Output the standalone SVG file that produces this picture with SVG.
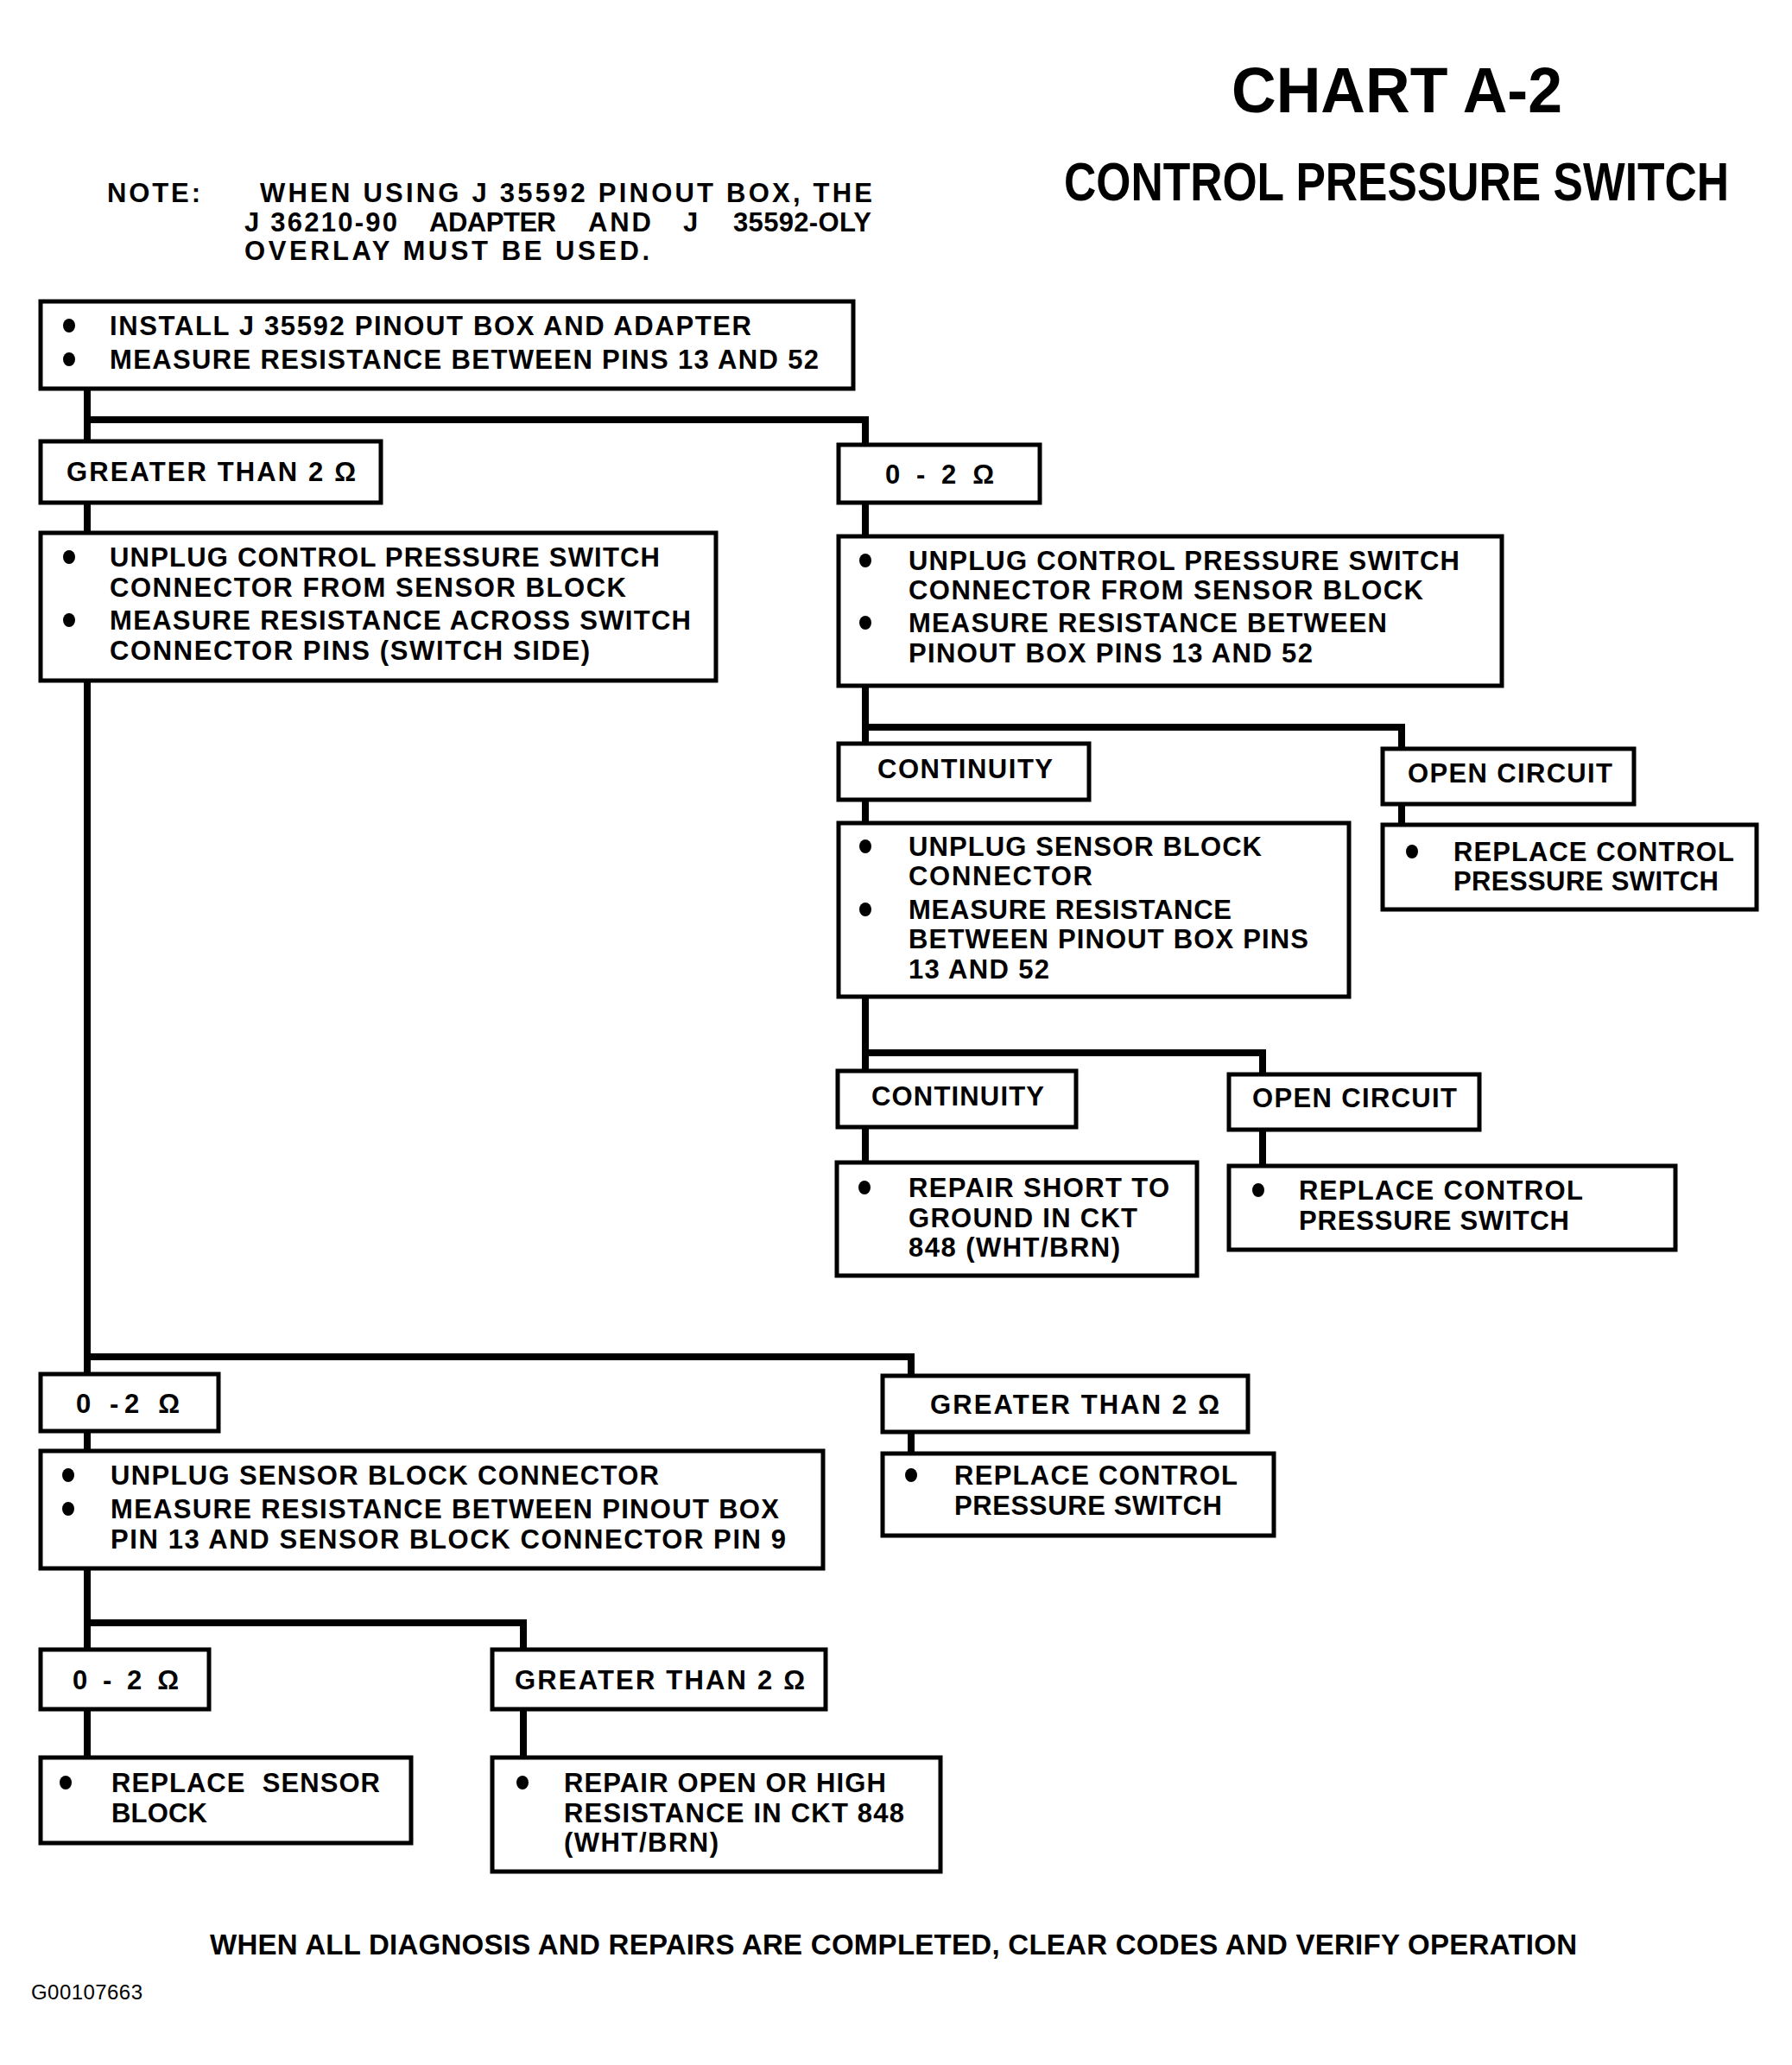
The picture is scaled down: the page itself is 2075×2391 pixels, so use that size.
<svg xmlns="http://www.w3.org/2000/svg" xmlns:xlink="http://www.w3.org/1999/xlink" width="2075" height="2391" viewBox="0 0 2075 2391">
<style>
.box{fill:#fff;stroke:#000;stroke-width:5}
.t{font-family:"Liberation Sans",Arial,Helvetica,sans-serif;font-weight:bold;font-size:31px;fill:#000}
.ft{font-family:"Liberation Sans",Arial,Helvetica,sans-serif;font-weight:bold;font-size:33px;fill:#000}
.h1{font-family:"Liberation Sans",Arial,Helvetica,sans-serif;font-weight:bold;font-size:74px;fill:#000}
.h2{font-family:"Liberation Sans",Arial,Helvetica,sans-serif;font-weight:bold;font-size:52px;fill:#000}
.code{font-family:"Liberation Sans",Arial,Helvetica,sans-serif;font-size:24px;fill:#000}
.conn{fill:none;stroke:#000;stroke-width:8;stroke-linejoin:miter;stroke-linecap:butt}
</style>
<defs>
<ellipse id="bul" cx="0" cy="0" rx="7" ry="8" fill="#000"/>
</defs>
<rect width="2075" height="2391" fill="#fff"/>

<g id="n-title">
<text class="h1" x="1426" y="130" textLength="383" lengthAdjust="spacingAndGlyphs">CHART A-2</text>
<text class="h2" transform="translate(1232,232) scale(1,1.22)" x="0" y="0" textLength="770" lengthAdjust="spacingAndGlyphs">CONTROL PRESSURE SWITCH</text>
</g>

<g id="n-note">
<text class="t" x="124" y="234" textLength="108">NOTE:</text>
<text class="t" x="301" y="234" textLength="709">WHEN USING J 35592 PINOUT BOX, THE</text>
<text class="t" x="283" y="268" textLength="177">J 36210-90</text>
<text class="t" x="497" y="268" textLength="147">ADAPTER</text>
<text class="t" x="681" y="268" textLength="73">AND</text>
<text class="t" x="791" y="268">J</text>
<text class="t" x="849" y="268" textLength="160">35592-OLY</text>
<text class="t" x="283" y="301" textLength="469">OVERLAY MUST BE USED.</text>
</g>

<g id="connectors">
<path class="conn" d="M101,450 V510 M101,486 H1002 V514"/>
<path class="conn" d="M101,582 V617"/>
<path class="conn" d="M1002,583 V620"/>
<path class="conn" d="M1002,794 V861 M1002,842 H1623 V866"/>
<path class="conn" d="M1623,932 V956"/>
<path class="conn" d="M1002,926 V953"/>
<path class="conn" d="M1002,1154 V1240 M1002,1219 H1462 V1243"/>
<path class="conn" d="M1002,1305 V1346"/>
<path class="conn" d="M1462,1308 V1350"/>
<path class="conn" d="M101,788 V1591 M101,1571 H1055 V1593"/>
<path class="conn" d="M101,1658 V1680"/>
<path class="conn" d="M1055,1658 V1683"/>
<path class="conn" d="M101,1816 V1910 M101,1879 H606 V1910"/>
<path class="conn" d="M101,1980 V2035"/>
<path class="conn" d="M606,1980 V2035"/>
</g>

<g id="n-start">
<rect class="box" x="47" y="349" width="941" height="101"/>
<use xlink:href="#bul" x="80" y="377"/>
<use xlink:href="#bul" x="80" y="416"/>
<text class="t" x="127" y="388" textLength="743">INSTALL J 35592 PINOUT BOX AND ADAPTER</text>
<text class="t" x="127" y="427" textLength="821">MEASURE RESISTANCE BETWEEN PINS 13 AND 52</text>
</g>

<g id="n-gt-a">
<rect class="box" x="47" y="511" width="394" height="71"/>
<text class="t" x="77" y="557" textLength="335">GREATER THAN 2 Ω</text>
</g>

<g id="n-cps-left">
<rect class="box" x="47" y="617" width="782" height="171"/>
<use xlink:href="#bul" x="80" y="645"/>
<use xlink:href="#bul" x="80" y="718"/>
<text class="t" x="127" y="656" textLength="637">UNPLUG CONTROL PRESSURE SWITCH</text>
<text class="t" x="127" y="691" textLength="598">CONNECTOR FROM SENSOR BLOCK</text>
<text class="t" x="127" y="729" textLength="673">MEASURE RESISTANCE ACROSS SWITCH</text>
<text class="t" x="127" y="764" textLength="556">CONNECTOR PINS (SWITCH SIDE)</text>
</g>

<g id="n-02-r">
<rect class="box" x="971" y="515" width="233" height="67"/>
<text class="t" x="1025" y="560" textLength="126">0 - 2 Ω</text>
</g>

<g id="n-cps-right">
<rect class="box" x="971" y="621" width="768" height="173"/>
<use xlink:href="#bul" x="1002" y="649"/>
<use xlink:href="#bul" x="1002" y="721"/>
<text class="t" x="1052" y="660" textLength="638">UNPLUG CONTROL PRESSURE SWITCH</text>
<text class="t" x="1052" y="694" textLength="596">CONNECTOR FROM SENSOR BLOCK</text>
<text class="t" x="1052" y="732" textLength="554">MEASURE RESISTANCE BETWEEN</text>
<text class="t" x="1052" y="767" textLength="468">PINOUT BOX PINS 13 AND 52</text>
</g>

<g id="n-cont-1">
<rect class="box" x="971" y="861" width="290" height="65"/>
<text class="t" x="1016" y="901" textLength="203">CONTINUITY</text>
</g>

<g id="n-open-1">
<rect class="box" x="1601" y="867" width="291" height="64"/>
<text class="t" x="1630" y="906" textLength="237">OPEN CIRCUIT</text>
</g>

<g id="n-replace-1">
<rect class="box" x="1601" y="955" width="433" height="98"/>
<use xlink:href="#bul" x="1635" y="986"/>
<text class="t" x="1683" y="997" textLength="325">REPLACE CONTROL</text>
<text class="t" x="1683" y="1031" textLength="307">PRESSURE SWITCH</text>
</g>

<g id="n-unplug-sb-1">
<rect class="box" x="971" y="953" width="591" height="201"/>
<use xlink:href="#bul" x="1002" y="980"/>
<use xlink:href="#bul" x="1002" y="1053"/>
<text class="t" x="1052" y="991" textLength="409">UNPLUG SENSOR BLOCK</text>
<text class="t" x="1052" y="1025" textLength="213">CONNECTOR</text>
<text class="t" x="1052" y="1064" textLength="374">MEASURE RESISTANCE</text>
<text class="t" x="1052" y="1098" textLength="463">BETWEEN PINOUT BOX PINS</text>
<text class="t" x="1052" y="1133" textLength="163">13 AND 52</text>
</g>

<g id="n-cont-2">
<rect class="box" x="970" y="1240" width="276" height="65"/>
<text class="t" x="1009" y="1280" textLength="200">CONTINUITY</text>
</g>

<g id="n-open-2">
<rect class="box" x="1423" y="1244" width="290" height="64"/>
<text class="t" x="1450" y="1282" textLength="237">OPEN CIRCUIT</text>
</g>

<g id="n-repair-short">
<rect class="box" x="969" y="1346" width="417" height="131"/>
<use xlink:href="#bul" x="1001" y="1375"/>
<text class="t" x="1052" y="1386" textLength="302">REPAIR SHORT TO</text>
<text class="t" x="1052" y="1421" textLength="265">GROUND IN CKT</text>
<text class="t" x="1052" y="1455" textLength="245">848 (WHT/BRN)</text>
</g>

<g id="n-replace-2">
<rect class="box" x="1423" y="1350" width="517" height="97"/>
<use xlink:href="#bul" x="1457" y="1378"/>
<text class="t" x="1504" y="1389" textLength="329">REPLACE CONTROL</text>
<text class="t" x="1504" y="1424" textLength="313">PRESSURE SWITCH</text>
</g>

<g id="n-02-b">
<rect class="box" x="47" y="1591" width="206" height="66"/>
<text class="t" x="88" y="1636" textLength="120">0 -2 Ω</text>
</g>

<g id="n-gt-b">
<rect class="box" x="1022" y="1593" width="423" height="65"/>
<text class="t" x="1077" y="1637" textLength="335">GREATER THAN 2 Ω</text>
</g>

<g id="n-unplug-sb-2">
<rect class="box" x="47" y="1680" width="906" height="136"/>
<use xlink:href="#bul" x="79" y="1708"/>
<use xlink:href="#bul" x="79" y="1747"/>
<text class="t" x="128" y="1719" textLength="635">UNPLUG SENSOR BLOCK CONNECTOR</text>
<text class="t" x="128" y="1758" textLength="774">MEASURE RESISTANCE BETWEEN PINOUT BOX</text>
<text class="t" x="128" y="1793" textLength="782">PIN 13 AND SENSOR BLOCK CONNECTOR PIN 9</text>
</g>

<g id="n-replace-3">
<rect class="box" x="1022" y="1683" width="453" height="95"/>
<use xlink:href="#bul" x="1055" y="1708"/>
<text class="t" x="1105" y="1719" textLength="328">REPLACE CONTROL</text>
<text class="t" x="1105" y="1754" textLength="310">PRESSURE SWITCH</text>
</g>

<g id="n-02-c">
<rect class="box" x="47" y="1910" width="195" height="69"/>
<text class="t" x="84" y="1956" textLength="123">0 - 2 Ω</text>
</g>

<g id="n-gt-c">
<rect class="box" x="570" y="1910" width="386" height="69"/>
<text class="t" x="596" y="1956" textLength="336">GREATER THAN 2 Ω</text>
</g>

<g id="n-replace-sb">
<rect class="box" x="47" y="2035" width="429" height="99"/>
<use xlink:href="#bul" x="76" y="2064"/>
<text class="t" x="129" y="2075" textLength="311" xml:space="preserve">REPLACE  SENSOR</text>
<text class="t" x="129" y="2110" textLength="111">BLOCK</text>
</g>

<g id="n-repair-open">
<rect class="box" x="570" y="2035" width="519" height="132"/>
<use xlink:href="#bul" x="605" y="2064"/>
<text class="t" x="653" y="2075" textLength="373">REPAIR OPEN OR HIGH</text>
<text class="t" x="653" y="2110" textLength="394">RESISTANCE IN CKT 848</text>
<text class="t" x="653" y="2144" textLength="179">(WHT/BRN)</text>
</g>

<g id="n-footer">
<text class="ft" x="243" y="2263" textLength="1583">WHEN ALL DIAGNOSIS AND REPAIRS ARE COMPLETED, CLEAR CODES AND VERIFY OPERATION</text>
</g>

<g id="n-code">
<text class="code" x="36" y="2315" textLength="129">G00107663</text>
</g>
</svg>
